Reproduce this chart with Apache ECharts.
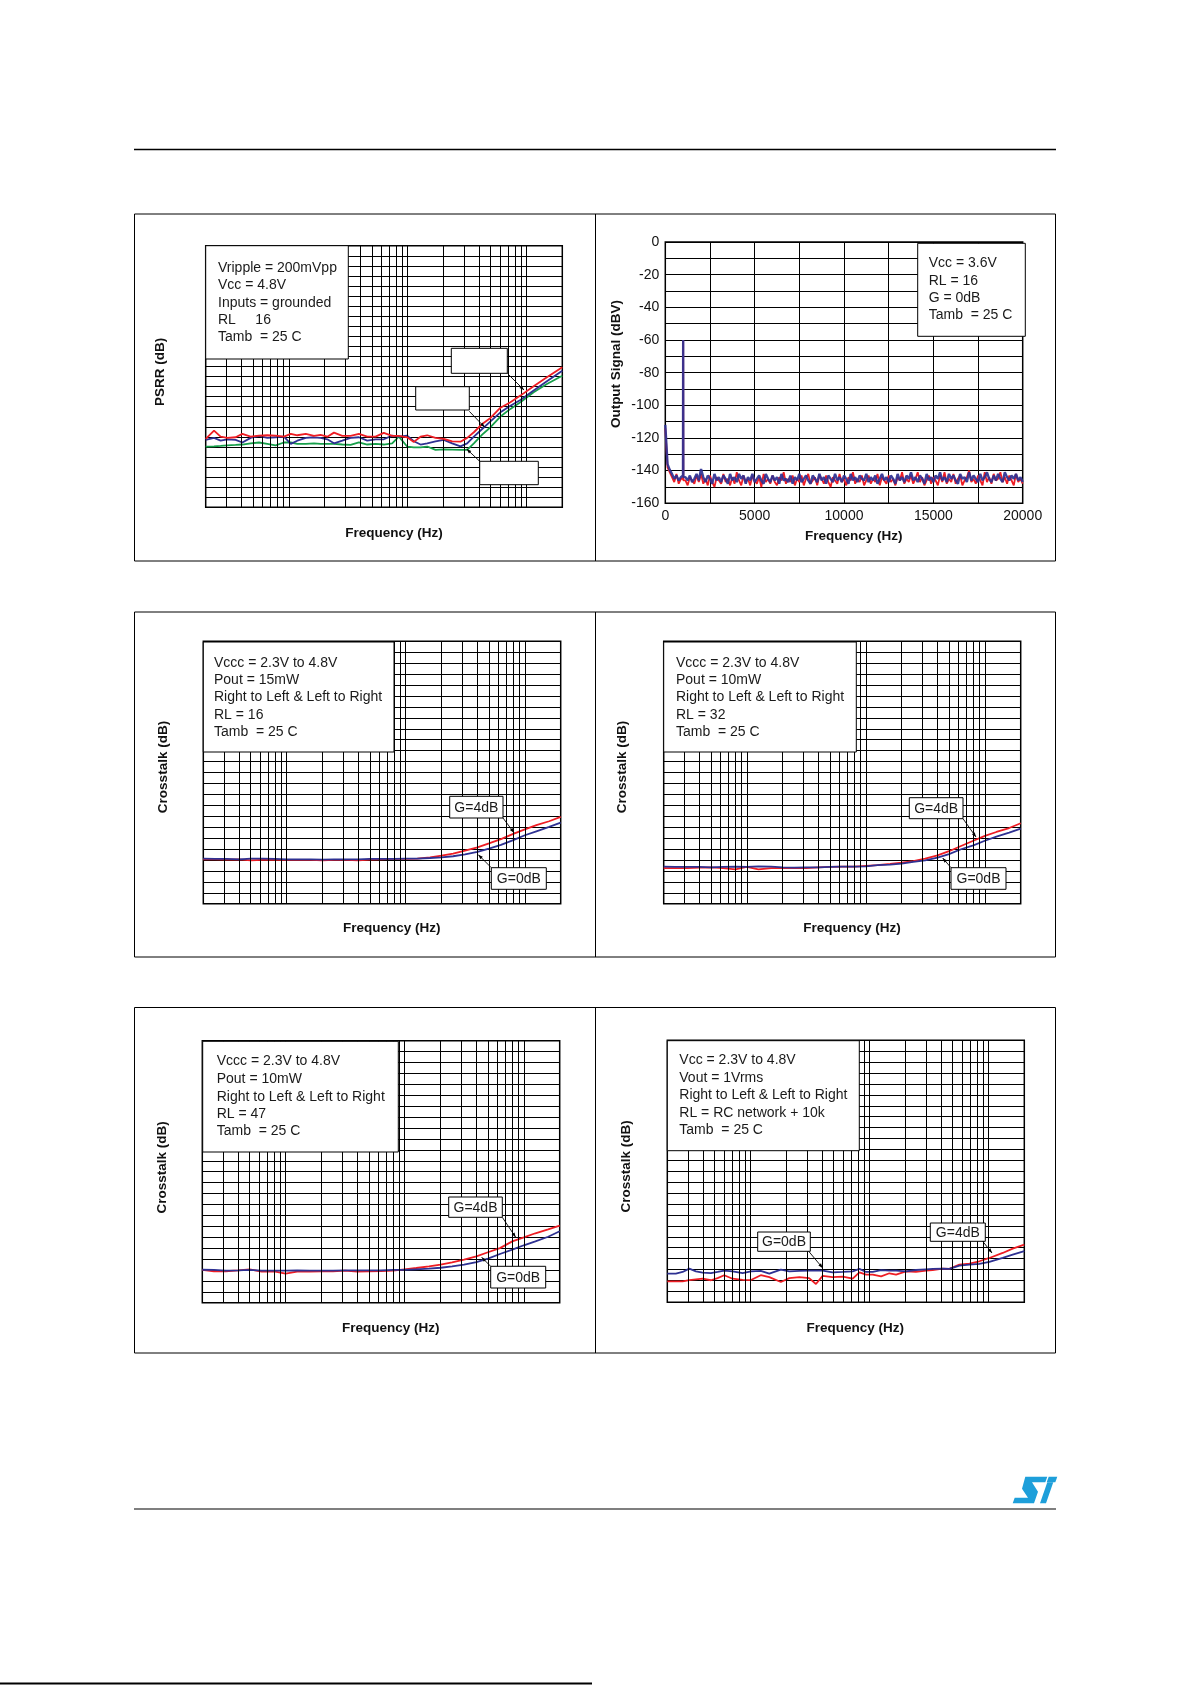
<!DOCTYPE html>
<html><head><meta charset="utf-8">
<script src="https://cdn.jsdelivr.net/npm/echarts@6/dist/echarts.min.js"></script>
<style>html,body{margin:0;padding:0;background:#fff}#c{width:1191px;height:1685px}</style>
</head><body><div id="c"></div>
<script>
// ---------- DATA ----------
// Vertical log grid positions (Hz)
const logGridFreqs = [30,40,50,60,70,80,90,100,200,300,400,500,600,700,800,900,1000,2000,3000,4000,5000,6000,7000,8000,9000,10000];

// PSRR vs frequency
const psrrFreq = [20,23.5,26.7,30.4,35.7,40.7,47.8,56.1,65.9,77.5,91,104,118,139,163,185,211,240,282,331,389,457,537,630,741,843,990,1127,1283,1461,1716,2016,2368,2782,3167,3606,4236,4977,6036,7321,8880,11480,14840,20000];
const psrrRed = [-96.0,-91.9,-94.9,-95.5,-95.2,-93.5,-94.9,-94.4,-94.2,-94.4,-94.9,-93.5,-94.2,-93.5,-94.5,-94.0,-94.9,-92.9,-94.5,-94.5,-93.5,-94.9,-94.9,-93.0,-94.5,-94.5,-95.2,-97.5,-94.9,-94.2,-95.5,-96.0,-97.2,-97.4,-95.5,-92.7,-88.6,-85.6,-80.5,-77.8,-74.5,-69.9,-65.4,-60.4];
const psrrBlue = [-96.5,-95.5,-96.9,-96.2,-96.5,-97.8,-95.5,-94.5,-95.5,-95.2,-94.9,-98.5,-96.9,-95.5,-95.2,-95.5,-96.2,-98.2,-96.9,-95.5,-95.2,-96.9,-96.2,-96.2,-94.4,-94.9,-94.4,-97.2,-98.8,-98.2,-97.2,-96.5,-98.2,-99.7,-98.2,-94.9,-91.1,-87.3,-82.8,-79.5,-76.7,-72.0,-67.4,-62.1];
const psrrGreen = [-99.8,-99.7,-99.5,-99.2,-99.0,-98.8,-98.2,-97.8,-98.5,-99.2,-97.8,-97.8,-98.5,-98.5,-98.2,-98.5,-98.5,-98.5,-98.8,-99.0,-97.7,-98.8,-98.5,-98.8,-98.2,-94.9,-99.8,-100.2,-100.2,-99.8,-101.5,-101.2,-101.3,-101.5,-101.5,-98.2,-93.9,-90.2,-84.9,-81.1,-77.8,-72.8,-68.7,-64.6];

// FFT output spectrum (125 Hz bins, 0..20000 Hz)
const fftBinHz = 125;
const fftBlue = [
-112,-136,-139.5,-142,-145,-143,-146,-144,-60,-144,
-146,-143,-147,-145,-142,-146,-139,-144,-147,-143,
-145,-148,-142,-146,-144,-147,-143,-145,-148,-142,
-146,-144,-147,-142,-145,-143,-148,-144,-146,-142,
-147,-145,-143,-146,-148,-142,-145,-147,-143,-146,
-144,-148,-142,-146,-145,-147,-143,-148,-144,-146,
-142,-147,-145,-143,-146,-148,-143,-145,-147,-142,
-146,-144,-148,-143,-145,-147,-142,-146,-144,-147,
-143,-145,-148,-142,-146,-144,-147,-143,-145,-146,
-142,-147,-144,-146,-143,-148,-145,-142,-146,-144,
-147,-143,-145,-148,-142,-146,-144,-147,-143,-145,
-141,-146,-144,-147,-143,-145,-148,-142,-146,-144,
-147,-143,-145,-141,-146,-144,-147,-142,-145,-143,
-146,-148,-142,-145,-144,-147,-141,-146,-143,-145,
-147,-142,-146,-144,-141,-145,-147,-143,-146,-142,
-145,-147,-141,-144,-146,-143,-145,-142,-146,-144,
-147];
const fftRed = [
-114,-138,-141,-144,-147,-142,-148,-145,-60,-146,
-149,-144,-146,-148,-143,-147,-142,-148,-145,-149,
-143,-147,-150,-144,-146,-148,-142,-147,-145,-149,
-144,-148,-141,-146,-149,-143,-147,-145,-149,-143,
-146,-148,-144,-150,-142,-147,-145,-148,-143,-147,
-149,-144,-146,-141,-148,-145,-147,-143,-149,-145,
-147,-143,-149,-145,-142,-148,-146,-144,-149,-143,
-145,-148,-143,-147,-150,-144,-146,-148,-142,-147,
-145,-149,-144,-146,-141,-148,-145,-147,-143,-149,
-146,-143,-148,-145,-147,-142,-149,-144,-146,-148,
-143,-147,-145,-149,-144,-146,-141,-148,-145,-147,
-143,-148,-145,-141,-147,-144,-149,-146,-143,-148,
-144,-146,-149,-143,-147,-141,-148,-145,-147,-142,
-148,-145,-143,-149,-146,-144,-140,-147,-145,-148,
-143,-146,-149,-141,-147,-144,-148,-142,-146,-145,
-141,-147,-144,-148,-143,-146,-149,-142,-147,-145,
-148];
// narrow shoulders around the 1 kHz tone
const fftShoulderFreq = [990, 1010];
const fftShoulderBlue = [-143, -144];
const fftShoulderRed = [-145, -146];

// Crosstalk curves (1/3 octave frequencies)
const xtFreq = [20,25,31.5,40,50,63,80,100,125,160,200,250,315,400,500,630,800,1000,1250,1600,2000,2500,3150,4000,5000,6300,8000,10000,12500,16000,20000];
const xt16Red  = [-99.7,-99.7,-99.8,-99.7,-100.2,-100.0,-100.0,-100.0,-100.0,-100.0,-100.2,-100.0,-100.0,-100.2,-99.8,-99.7,-99.5,-99.5,-99.4,-98.8,-98.0,-97.1,-95.7,-94.2,-92.4,-90.5,-88.1,-86.0,-84.1,-82.3,-80.3];
const xt16Blue = [-99.4,-99.5,-99.5,-99.7,-99.4,-99.4,-99.5,-99.7,-99.7,-99.7,-99.8,-99.7,-99.7,-99.7,-99.5,-99.5,-99.5,-99.4,-99.4,-99.1,-98.8,-98.3,-97.4,-96.3,-94.8,-93.1,-90.9,-88.7,-86.9,-84.9,-82.9];
const xt32Red  = [-103.7,-103.7,-103.7,-103.5,-103.4,-103.7,-104.3,-103.2,-104.3,-103.7,-103.7,-103.7,-103.7,-103.4,-103.2,-103.0,-103.0,-102.7,-102.4,-101.8,-101.2,-100.5,-99.4,-97.9,-96.0,-93.6,-91.2,-89.0,-87.2,-85.4,-83.2];
const xt32Blue = [-103.0,-103.2,-103.2,-103.2,-103.4,-103.2,-103.0,-103.2,-102.9,-103.0,-103.4,-103.5,-103.4,-103.4,-103.2,-103.0,-103.0,-102.9,-102.4,-102.1,-101.7,-100.9,-100.2,-98.9,-97.3,-95.1,-93.3,-91.2,-89.3,-87.5,-85.7];
const xt47Red  = [-105.0,-105.6,-105.6,-105.2,-104.7,-105.8,-105.6,-106.7,-105.8,-105.8,-105.6,-105.6,-105.3,-105.8,-105.6,-105.5,-105.3,-104.7,-104.1,-103.4,-102.6,-101.5,-100.3,-98.8,-96.9,-95.0,-91.9,-90.1,-88.2,-86.4,-84.7];
const xt47Blue = [-104.9,-105.0,-105.3,-105.2,-105.0,-105.3,-105.3,-105.3,-105.2,-105.3,-105.3,-105.3,-105.2,-105.2,-105.2,-105.2,-105.0,-105.0,-104.7,-104.4,-104.0,-103.4,-102.6,-101.4,-99.8,-97.7,-95.7,-93.7,-91.9,-89.8,-87.3];

// Crosstalk RC network (finer frequency points)
const rcFreq = [20,23.6,26.9,30.6,34.8,39.6,46.5,52.9,60.2,70.7,85.9,101,122,144,180,212,258,311,355,404,490,596,723,823,937,1066,1252,1470,1674,2026,2458,2984,3396,4122,4692,5694,6910,8386,10178,13170,15980,20000];
const rcRed  = [-110.4,-110.4,-110.4,-109.8,-109.5,-109.2,-109.9,-108.9,-107.6,-109.2,-109.7,-109.8,-107.6,-108.5,-110.7,-108.9,-108.5,-108.9,-111.6,-107.9,-108.5,-108.2,-109.2,-106.3,-107.3,-107.3,-108.1,-106.7,-107.3,-105.8,-106.1,-105.5,-105.2,-104.6,-104.7,-102.7,-102.3,-101.2,-99.7,-97.4,-95.4,-93.6];
const rcBlue = [-106.9,-106.9,-106.1,-104.6,-105.8,-106.4,-106.6,-106.1,-105.5,-105.8,-106.6,-105.8,-105.6,-106.9,-105.0,-105.8,-105.6,-105.5,-105.5,-105.5,-106.3,-106.1,-105.8,-104.7,-106.1,-106.1,-105.3,-105.5,-105.5,-105.8,-105.2,-104.9,-104.7,-104.6,-104.7,-103.2,-102.7,-102.4,-101.5,-99.7,-98.2,-96.6];

// Texts
const legend1 = ['Vripple = 200mVpp','Vcc = 4.8V','Inputs = grounded','RL     16','Tamb  = 25 C'];
const legend2 = ['Vcc = 3.6V','RL = 16','G = 0dB','Tamb  = 25 C'];
const legend3 = ['Vccc = 2.3V to 4.8V','Pout = 15mW','Right to Left & Left to Right','RL = 16','Tamb  = 25 C'];
const legend4 = ['Vccc = 2.3V to 4.8V','Pout = 10mW','Right to Left & Left to Right','RL = 32','Tamb  = 25 C'];
const legend5 = ['Vccc = 2.3V to 4.8V','Pout = 10mW','Right to Left & Left to Right','RL = 47','Tamb  = 25 C'];
const legend6 = ['Vcc = 2.3V to 4.8V','Vout = 1Vrms','Right to Left & Left to Right','RL = RC network + 10k','Tamb  = 25 C'];

// ---------- STYLE / LAYOUT ----------
const FONT = '"Liberation Sans", Arial, sans-serif';
const RED = '#ee1d24', BLUE = '#2e3192', GREEN = '#17a04b';
const grids = [
  {left:205.7, top:245.7, width:356.6, height:261.6},
  {left:665.3, top:242,   width:357.4, height:261.3},
  {left:203.3, top:641.3, width:357.4, height:262.4},
  {left:663.7, top:641.3, width:357,   height:262.4},
  {left:202.3, top:1040.7,width:357.4, height:262},
  {left:667.3, top:1040.3,width:357,   height:262}
].map(g => Object.assign({show:true, borderColor:'#000', borderWidth:1.5, backgroundColor:'#fff'}, g));

const grayLine = {lineStyle:{color:'#000', width:1}};
function logX(i){ return {type:'log', logBase:10, min:20, max:20000, gridIndex:i,
  axisLine:{show:false}, axisTick:{show:false}, axisLabel:{show:false}, splitLine:{show:false}}; }
function dbY(i, min){ return {type:'value', min:min, max:0, interval:5, gridIndex:i,
  axisLine:{show:false}, axisTick:{show:false}, axisLabel:{show:false}, splitLine:Object.assign({show:true}, grayLine)}; }

const xAxes = [logX(0),
  {type:'value', min:0, max:20000, interval:2500, gridIndex:1,
   axisLine:{show:false}, axisTick:{show:false}, splitLine:Object.assign({show:true}, grayLine),
   axisLabel:{margin:6, color:'#111', fontSize:14, fontFamily:FONT, formatter:v => (v % 5000 === 0 ? String(v) : '')}},
  logX(2), logX(3), logX(4), logX(5)];
const yAxes = [dbY(0,-130),
  {type:'value', min:-160, max:0, interval:10, gridIndex:1,
   axisLine:{show:false}, axisTick:{show:false}, splitLine:Object.assign({show:true}, grayLine),
   axisLabel:{margin:6, color:'#111', fontSize:14, fontFamily:FONT, formatter:v => (v % 20 === 0 ? String(v) : '')}},
  dbY(2,-120), dbY(3,-120), dbY(4,-120), dbY(5,-120)];

function gridHelper(i){
  return {type:'line', xAxisIndex:i, yAxisIndex:i, data:[], z:1, silent:true,
    markLine:{silent:true, animation:false, symbol:['none','none'], label:{show:false},
      lineStyle:{color:'#000', width:1, type:'solid'}, emphasis:{disabled:true},
      data: logGridFreqs.map(f => ({xAxis:f}))}};
}
function curve(i, freq, vals, color, z, w){
  return {type:'line', xAxisIndex:i, yAxisIndex:i, data:freq.map((f,k)=>[f, vals[k]]),
    symbol:'none', z:z, silent:true, lineStyle:{color:color, width:w||1.8}};
}
function fftData(bins, sf, sv){
  const d = bins.map((v,k)=>[k*fftBinHz, v]);
  sf.forEach((f,k)=>d.push([f, sv[k]]));
  d.sort((a,b)=>a[0]-b[0]);
  return d;
}

const series = [
  gridHelper(0),
  curve(0, psrrFreq, psrrGreen, GREEN, 3),
  curve(0, psrrFreq, psrrBlue, BLUE, 4),
  curve(0, psrrFreq, psrrRed, RED, 5),
  {type:'line', xAxisIndex:1, yAxisIndex:1, data:fftData(fftRed, fftShoulderFreq, fftShoulderRed), symbol:'none', z:3, silent:true, lineStyle:{color:RED, width:1.8}},
  {type:'line', xAxisIndex:1, yAxisIndex:1, data:fftData(fftBlue, fftShoulderFreq, fftShoulderBlue), symbol:'none', z:4, silent:true, lineStyle:{color:BLUE, width:2.4, opacity:0.92}},
  gridHelper(2), curve(2, xtFreq, xt16Red, RED, 3), curve(2, xtFreq, xt16Blue, BLUE, 4),
  gridHelper(3), curve(3, xtFreq, xt32Red, RED, 3), curve(3, xtFreq, xt32Blue, BLUE, 4),
  gridHelper(4), curve(4, xtFreq, xt47Red, RED, 3), curve(4, xtFreq, xt47Blue, BLUE, 4),
  gridHelper(5), curve(5, rcFreq, rcRed, RED, 3), curve(5, rcFreq, rcBlue, BLUE, 4)
];

// ---------- DECORATION (graphic) ----------
const G = [];
function rect(x,y,w,h,fill,lw,z){ G.push({type:'rect', z:z||100, silent:true, shape:{x:x,y:y,width:w,height:h}, style:{fill:fill, stroke:'#000', lineWidth:lw||1}}); }
function line(x1,y1,x2,y2,lw,z){ G.push({type:'line', z:z||101, silent:true, shape:{x1:x1,y1:y1,x2:x2,y2:y2}, style:{stroke:'#000', lineWidth:lw||1}}); }
function txt(x,y,s,opt){
  opt = opt || {};
  G.push({type:'text', z:102, silent:true, x:x, y:y, rotation:opt.rot||0,
    style:{text:s, fill:opt.fill||'#1a1a1a', font:(opt.bold?'bold ':'')+(opt.size||14)+'px '+FONT,
      textAlign:opt.align||'left', textVerticalAlign:'middle', align:opt.align||'left', verticalAlign:'middle'}});
}
function leader(x1,y1,x2,y2){
  line(x1,y1,x2,y2,0.9);
  const a = Math.atan2(y2-y1, x2-x1), L = 5, s = 0.35;
  G.push({type:'polygon', z:101, silent:true, shape:{points:[[x2,y2],
    [x2-L*Math.cos(a-s), y2-L*Math.sin(a-s)], [x2-L*Math.cos(a+s), y2-L*Math.sin(a+s)]]}, style:{fill:'#000'}});
}
function legendBox(x,y,w,h,tx,ty,lines){
  rect(x,y,w,h,'#fff',1);
  lines.forEach((s,k)=>txt(tx, ty[k], s));
}
function gBox(x,y,w,h,label){
  rect(x,y,w,h,'#fff',1);
  if(label) txt(x+w/2, y+h/2+0.5, label, {align:'center'});
}

// page rules
line(134, 149.5, 1056, 149.5, 1.5, 10);
line(134, 1509, 1056, 1509, 1.2, 10);
line(0, 1683.5, 592, 1683.5, 2, 10);

// panel frames
[[214,347],[612,345],[1007.5,345.5]].forEach(r=>{
  G.push({type:'rect', z:10, silent:true, shape:{x:134.5,y:r[0],width:921,height:r[1]}, style:{fill:'none', stroke:'#000', lineWidth:1}});
  line(595.5, r[0], 595.5, r[0]+r[1], 1, 10);
});

// legend boxes
legendBox(205.7,245.7,142.6,113.3, 218, [268,285.3,302.7,320,337.3], legend1);
legendBox(917.7,243.3,107.6,93, 928.7, [263.3,280.7,298,315.3], legend2);
legendBox(203.3,642,190.7,110, 214, [662.7,680,697.3,714.7,732], legend3);
legendBox(663.7,642,192.6,110, 676, [662.7,680,697.3,714.7,732], legend4);
legendBox(202.7,1041.3,195.6,110.7, 216.7, [1061.3,1078.7,1096.7,1114,1131.3], legend5);
legendBox(667.3,1040.7,192,110, 679.3, [1060.3,1078,1095.3,1112.7,1130], legend6);

// annotation boxes + leaders
gBox(451.3,348.3,56,25,''); leader(507.3,373.3,524,390);
gBox(415.7,386.7,53.6,23.3,''); leader(469.3,411.3,484.7,427.3);
gBox(479.7,461.3,58.6,23.4,''); leader(479.7,461.3,466.7,449);
gBox(449.7,796.3,53.3,21.7,'G=4dB'); leader(503,818,514,832.7);
gBox(491.3,867.7,55,21.6,'G=0dB'); leader(491.3,867.7,478.3,854.7);
gBox(909.3,797.7,53.7,21,'G=4dB'); leader(963,818.7,976,837);
gBox(951,867.7,55,21.6,'G=0dB'); leader(951,867.7,942.7,858);
gBox(448.7,1197,53.6,20.3,'G=4dB'); leader(502.3,1217.3,515.7,1237.3);
gBox(490.7,1266.3,55,21.7,'G=0dB'); leader(490.7,1266.3,481.7,1257.3);
gBox(757.7,1232,52.6,19.3,'G=0dB'); leader(808.7,1251.3,822.7,1268);
gBox(930.3,1223,55,18.3,'G=4dB'); leader(982.7,1241.3,992,1253);

// axis titles
const B = {bold:true, size:13.5, align:'center', fill:'#111'};
const BR = Object.assign({rot:Math.PI/2}, B);
txt(160.7,372,'PSRR (dB)',BR);            txt(394,533.3,'Frequency (Hz)',B);
txt(616,364,'Output Signal (dBV)',BR);    txt(853.7,536.3,'Frequency (Hz)',B);
txt(163,767,'Crosstalk (dB)',BR);         txt(391.7,928.7,'Frequency (Hz)',B);
txt(622.7,767,'Crosstalk (dB)',BR);       txt(852,928.7,'Frequency (Hz)',B);
txt(162.3,1167.3,'Crosstalk (dB)',BR);    txt(390.7,1328,'Frequency (Hz)',B);
txt(626.7,1166.3,'Crosstalk (dB)',BR);    txt(855.3,1328,'Frequency (Hz)',B);

// ST logo (approximate shapes)
const LOGO = '#1e9fda';
G.push({type:'polygon', z:10, silent:true, style:{fill:LOGO}, shape:{points:[[1025.3,1476.7],[1047.3,1476.7],[1045.3,1482.3],[1032,1482.3],[1038,1491.7],[1034,1503.3],[1012.7,1503.3],[1014.7,1497.7],[1028,1497.7],[1022,1488.7]]}});
G.push({type:'polygon', z:10, silent:true, style:{fill:LOGO}, shape:{points:[[1048.7,1476.7],[1057.3,1476.7],[1055.3,1482.3],[1046.7,1482.3]]}});
G.push({type:'polygon', z:10, silent:true, style:{fill:LOGO}, shape:{points:[[1047.3,1482.3],[1053.3,1482.3],[1046,1503.3],[1040,1503.3]]}});

const chart = echarts.init(document.getElementById('c'), null, {renderer:'canvas'});
chart.setOption({
  animation:false,
  backgroundColor:'#fff',
  grid: grids,
  xAxis: xAxes,
  yAxis: yAxes,
  series: series,
  graphic: {elements: G}
});
</script></body></html>
